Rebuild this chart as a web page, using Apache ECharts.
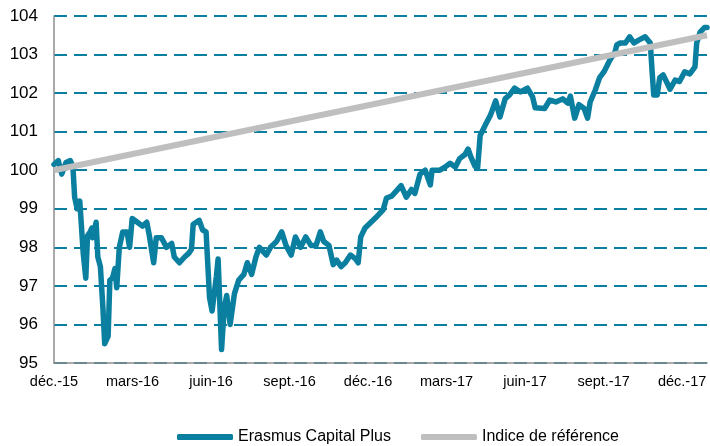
<!DOCTYPE html>
<html>
<head>
<meta charset="utf-8">
<script src="https://cdn.jsdelivr.net/npm/echarts@6/dist/echarts.min.js"></script>
<style>
  html, body { margin: 0; padding: 0; background: #fff; }
  #mychart { width: 710px; height: 446px; }
</style>
</head>
<body>
<div id="mychart"></div>
<script>
// days since 31/12/2015
const dayOffsets = [0, 5, 9, 14, 19, 22, 24, 27, 30, 34, 37, 39, 42, 44, 45, 49, 51, 54, 57, 59,
  61, 63, 65, 68, 71, 73, 76, 80, 85, 88, 91, 97, 103, 108, 111, 116, 119, 125, 131, 137,
  140, 146, 152, 157, 160, 162, 169, 173, 177, 181, 184, 189, 191, 195, 198, 201, 205, 210, 215, 221,
  225, 230, 235, 239, 243, 247, 252, 259, 265, 270, 276, 281, 287, 293, 299, 305, 310, 314, 320, 325,
  329, 334, 339, 345, 351, 354, 357, 362, 368, 374, 380, 383, 387, 393, 398, 404, 410, 416, 420, 426,
  432, 438, 440, 449, 455, 461, 467, 472, 478, 482, 485, 490, 493, 496, 503, 508, 514, 519, 525, 530,
  536, 543, 551, 557, 560, 571, 577, 584, 592, 598, 601, 606, 611, 617, 621, 624, 630, 635, 640, 647,
  653, 655, 659, 665, 670, 675, 681, 688, 690, 694, 696, 698, 702, 705, 709, 713, 717, 723, 728, 734,
  740, 746, 748, 752, 757, 760];

const fundValues = [100.15, 100.25, 99.9, 100.2, 100.25, 100.1, 99.3, 99.0, 99.2, 97.85, 97.2, 98.3, 98.4, 98.5, 98.25, 98.65, 97.75, 97.5, 96.4, 95.5,
  95.6, 95.7, 97.15, 97.2, 97.45, 96.95, 98.0, 98.4, 98.4, 98.0, 98.75, 98.65, 98.55, 98.65, 98.3, 97.6, 98.25, 98.25, 98.0, 98.1,
  97.75, 97.6, 97.75, 97.85, 97.95, 98.6, 98.7, 98.45, 98.4, 96.7, 96.35, 97.25, 97.7, 95.35, 96.4, 96.75, 96.0, 96.8, 97.15, 97.3,
  97.6, 97.3, 97.75, 98.0, 97.9, 97.8, 98.0, 98.15, 98.4, 98.05, 97.8, 98.27, 98.0, 98.27, 98.05, 98.05, 98.4, 98.15, 98.05, 97.55,
  97.67, 97.5, 97.6, 97.8, 97.7, 97.6, 98.27, 98.5, 98.63, 98.76, 98.9, 98.97, 99.28, 99.33, 99.45, 99.6, 99.3, 99.5, 99.4, 99.9,
  100.0, 99.62, 100.0, 100.0, 100.08, 100.18, 100.08, 100.3, 100.4, 100.55, 100.35, 100.1, 100.05, 100.9, 101.22, 101.43, 101.8, 101.38, 101.85, 101.95,
  102.13, 102.03, 102.13, 101.9, 101.62, 101.6, 101.82, 101.77, 101.85, 101.74, 101.92, 101.35, 101.7, 101.6, 101.35, 101.77, 102.08, 102.4, 102.55, 102.86,
  103.07, 103.25, 103.3, 103.3, 103.46, 103.3, 103.38, 103.46, 103.5, 103.3, 102.6, 101.95, 101.95, 102.4, 102.47, 102.29, 102.1, 102.34, 102.3, 102.55,
  102.5, 102.68, 103.3, 103.58, 103.7, 103.7];

// benchmark: straight line
const benchDays = [0, 760];
const benchValues = [100.0, 103.5];

// one label per quarter (91.375 days)
const tickLabels = ['déc.-15', 'mars-16', 'juin-16', 'sept.-16', 'déc.-16', 'mars-17', 'juin-17', 'sept.-17', 'déc.-17'];
const quarter = 91.375;

const seriesNames = ['Erasmus Capital Plus', 'Indice de référence'];

const toPoints = (days, vals) => days.map((d, i) => [d, vals[i]]);

const font = "'Liberation Sans', Arial, sans-serif";
const teal = '#0A7FA0';
const grey = '#BFBFBF';

const option = {
  animation: false,
  textStyle: { fontFamily: font },
  grid: { left: 54, right: 0, top: 16, bottom: 83 },
  legend: {
    left: 172,
    top: 424,
    itemWidth: 56,
    itemHeight: 6,
    itemGap: 30,
    textStyle: { fontFamily: font, fontSize: 16, color: '#000' },
    data: [
      { name: seriesNames[0], icon: 'roundRect' },
      { name: seriesNames[1], icon: 'roundRect' }
    ]
  },
  xAxis: {
    type: 'value',
    min: 0,
    max: 760,
    interval: quarter,
    axisLine: { show: true, lineStyle: { color: '#8c8c8c', width: 1.5 } },
    axisTick: { show: false },
    splitLine: { show: false },
    axisLabel: {
      margin: 11,
      fontFamily: font,
      fontSize: 14.5,
      color: '#000',
      hideOverlap: false,
      formatter: function (v) {
        const i = Math.round(v / quarter);
        return Math.abs(v - i * quarter) < 1 && tickLabels[i] ? tickLabels[i] : '';
      }
    }
  },
  yAxis: {
    type: 'value',
    min: 95,
    max: 104,
    interval: 1,
    axisLine: { show: true, lineStyle: { color: '#8c8c8c', width: 1.5 } },
    axisTick: { show: false },
    axisLabel: { margin: 16, fontFamily: font, fontSize: 17, color: '#000' },
    splitLine: {
      show: true,
      lineStyle: { color: teal, width: 2, type: [13, 7] }
    }
  },
  series: [
    {
      name: seriesNames[0],
      type: 'line',
      symbol: 'none',
      data: toPoints(dayOffsets, fundValues),
      lineStyle: { color: teal, width: 5.5, join: 'round', cap: 'round' },
      itemStyle: { color: teal },
      z: 2
    },
    {
      name: seriesNames[1],
      type: 'line',
      symbol: 'none',
      data: toPoints(benchDays, benchValues),
      lineStyle: { color: grey, width: 6 },
      itemStyle: { color: grey },
      z: 3
    }
  ]
};

const myChart = echarts.init(document.getElementById('mychart'));
myChart.setOption(option);
</script>
</body>
</html>
